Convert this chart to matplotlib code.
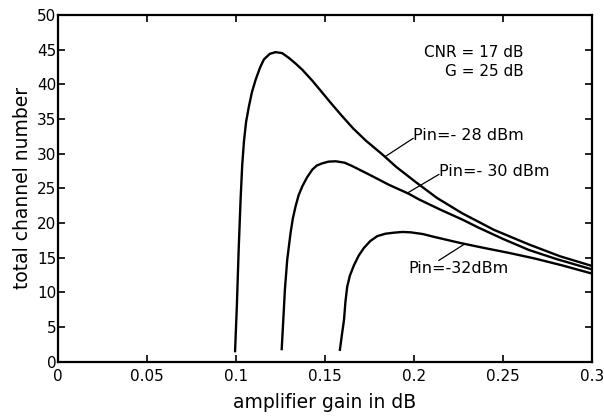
import matplotlib
matplotlib.use("Agg")
import matplotlib.pyplot as plt

# Pin = -28 dBm
x28 = [0.0995, 0.1005, 0.1015, 0.1026, 0.1035, 0.1045, 0.1057, 0.1073, 0.1090,
       0.1111, 0.1135, 0.1157, 0.1190, 0.1223, 0.1260, 0.1298, 0.1335, 0.1373,
       0.1430, 0.1485, 0.1540, 0.1597, 0.1660, 0.1729, 0.1822, 0.1900, 0.2010,
       0.2130, 0.2271, 0.2450, 0.2646, 0.2820, 0.3000]
y28 = [1.5, 8.0, 16.0, 23.4, 28.3, 31.8, 34.6, 36.85, 38.9,
       40.7, 42.4, 43.6, 44.4, 44.65, 44.5, 43.8, 43.0, 42.1,
       40.5, 38.8, 37.1, 35.4, 33.6, 31.9, 29.9, 28.1, 25.9,
       23.6, 21.4, 19.0, 16.9, 15.2, 13.8]

# Pin = -30 dBm
x30 = [0.1257, 0.1268, 0.1275, 0.1288, 0.1307, 0.1320, 0.1335, 0.1352, 0.1373,
       0.1400, 0.1429, 0.1455, 0.1485, 0.1520, 0.1560, 0.1610, 0.1654, 0.1747,
       0.1860, 0.1972, 0.2028, 0.2150, 0.2271, 0.2365, 0.2500, 0.2646, 0.2800,
       0.3000]
y30 = [1.8, 7.0, 10.4, 14.7, 18.6, 20.7, 22.4, 24.0, 25.3,
       26.6, 27.7, 28.3, 28.6, 28.85, 28.9, 28.7, 28.2, 27.0,
       25.5, 24.2, 23.4, 21.9, 20.5, 19.3, 17.7, 16.1, 14.8,
       13.3]

# Pin = -32 dBm
x32 = [0.1584, 0.1596, 0.1607, 0.1615, 0.1625, 0.1640, 0.1663, 0.1690, 0.1719,
       0.1755, 0.1794, 0.1840, 0.1888, 0.1935, 0.1981, 0.2050, 0.2112, 0.2262,
       0.2393, 0.2530, 0.2674, 0.2830, 0.3000]
y32 = [1.7, 4.0, 6.0, 8.6, 10.8, 12.4, 13.9, 15.3, 16.4,
       17.4, 18.1, 18.45, 18.6, 18.7, 18.65, 18.4, 18.0, 17.1,
       16.4, 15.7, 14.9, 13.9, 12.7]

xticks = [0, 0.05, 0.1, 0.15, 0.2, 0.25, 0.3]
xticklabels = ["0", "0.05", "0.1", "0.15", "0.2", "0.25", "0.3"]
yticks = list(range(0, 51, 5))

fig = plt.figure(figsize=(6.04, 4.18), dpi=100)
ax = fig.add_axes([0.096, 0.135, 0.884, 0.829])

for xs, ys in [(x28, y28), (x30, y30), (x32, y32)]:
    ax.plot(xs, ys, color="black", linewidth=1.7, solid_joinstyle="round")

ax.set_xlim(0, 0.3)
ax.set_ylim(0, 50)
ax.set_xticks(xticks)
ax.set_xticklabels(xticklabels)
ax.set_yticks(yticks)
ax.tick_params(direction="in", top=True, right=True, length=5, width=1.2,
               labelsize=11)
ax.tick_params(axis="y", pad=1)
ax.tick_params(axis="x", pad=5)
for s in ax.spines.values():
    s.set_linewidth(1.6)

ax.set_xlabel("amplifier gain in dB", fontsize=13.5, labelpad=7)
ax.set_ylabel("total channel number", fontsize=13.5, labelpad=4)

ax.text(0.2618, 44.6, "CNR = 17 dB", ha="right", va="center", fontsize=11)
ax.text(0.2618, 41.9, "G = 25 dB", ha="right", va="center", fontsize=11)

# curve labels with leader lines
ax.text(0.1995, 32.6, "Pin=- 28 dBm", ha="left", va="center", fontsize=11.5)
ax.plot([0.1995, 0.1840], [32.2, 29.6], color="black", linewidth=0.9)
ax.text(0.2140, 27.4, "Pin=- 30 dBm", ha="left", va="center", fontsize=11.5)
ax.plot([0.2140, 0.1962], [27.0, 24.3], color="black", linewidth=0.9)
ax.text(0.1970, 13.5, "Pin=-32dBm", ha="left", va="center", fontsize=11.5)
ax.plot([0.2140, 0.2281], [14.6, 16.9], color="black", linewidth=0.9)

fig.savefig("out.png", dpi=100)
